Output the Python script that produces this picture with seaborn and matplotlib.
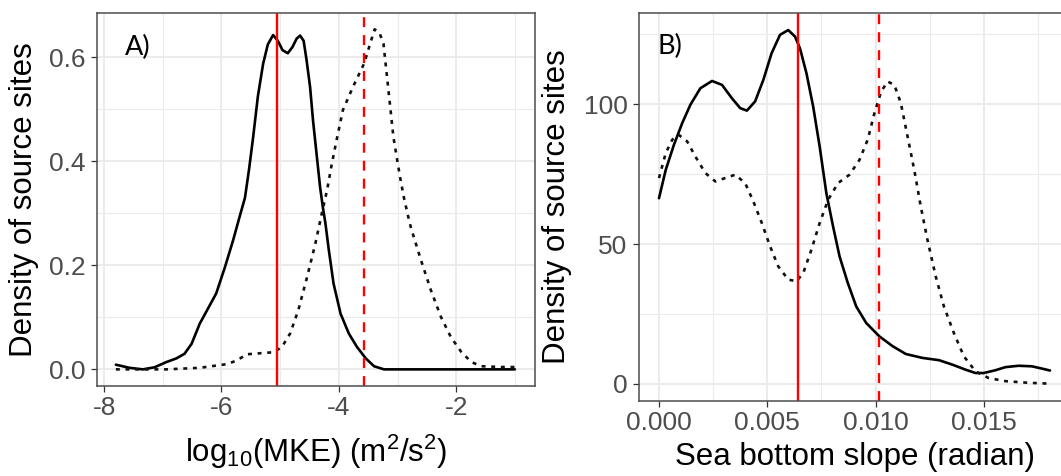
# density of source sites - MKE a sklon dna, dve panely vedla seba
import matplotlib
matplotlib.use("Agg")
import matplotlib.pyplot as plt
import seaborn as sns
import pandas as pd
from matplotlib.ticker import MultipleLocator, FormatStrFormatter

# A) log10(MKE)
mke_solid_x = [-7.80, -7.57, -7.34, -7.14, -6.94, -6.77, -6.63, -6.51, -6.37, -6.23, -6.09, -5.94,
               -5.80, -5.69, -5.60, -5.53, -5.46, -5.38, -5.29, -5.21, -5.12, -5.04, -4.96, -4.87,
               -4.79, -4.72, -4.66, -4.60, -4.55, -4.49, -4.44, -4.38, -4.32, -4.27, -4.23, -4.17,
               -4.09, -3.97, -3.83, -3.69, -3.54, -3.40, -3.23, -2.50, -1.00]
mke_solid_y = [0.009, 0.003, 0.000, 0.004, 0.014, 0.021, 0.030, 0.049, 0.088, 0.117, 0.146, 0.197,
               0.249, 0.294, 0.330, 0.385, 0.447, 0.525, 0.588, 0.625, 0.643, 0.632, 0.614, 0.608,
               0.620, 0.636, 0.642, 0.632, 0.595, 0.543, 0.479, 0.415, 0.351, 0.310, 0.282, 0.229,
               0.165, 0.107, 0.069, 0.043, 0.021, 0.006, 0.000, 0.000, 0.000]
mke_dot_x = [-7.80, -6.94, -6.37, -5.91, -5.74, -5.57, -5.34, -5.11, -4.97, -4.83, -4.69, -4.54,
             -4.40, -4.29, -4.20, -4.12, -4.04, -3.93, -3.76, -3.57, -3.47, -3.39, -3.31, -3.24,
             -3.16, -3.07, -2.96, -2.89, -2.82, -2.77, -2.60, -2.43, -2.26, -2.09, -1.91, -1.74,
             -1.57, -1.23, -1.00]
mke_dot_y = [0.000, 0.000, 0.003, 0.010, 0.017, 0.029, 0.031, 0.033, 0.043, 0.069, 0.114, 0.178,
             0.242, 0.300, 0.345, 0.395, 0.440, 0.499, 0.543, 0.588, 0.625, 0.654, 0.648, 0.627,
             0.543, 0.447, 0.372, 0.330, 0.295, 0.272, 0.210, 0.152, 0.101, 0.062, 0.033, 0.014,
             0.006, 0.0045, 0.0045]
mke_vlines = [-5.06, -3.57]

# B) sea bottom slope
slope_solid_x = [0.0, 0.31, 0.69, 1.07, 1.45, 1.91, 2.45, 2.91, 3.37, 3.75, 4.06, 4.44, 4.82, 5.20,
                 5.59, 5.97, 6.28, 6.51, 6.81, 7.12, 7.42, 7.73, 8.04, 8.34, 8.72, 9.11, 9.57, 10.18,
                 10.79, 11.40, 12.17, 12.93, 13.55, 14.16, 14.62, 15.0, 15.54, 16.0, 16.61, 17.22,
                 17.68, 18.06]
slope_solid_y = [66.4, 76.5, 85.5, 93.2, 99.8, 105.7, 108.3, 106.9, 102.1, 98.6, 97.7, 101.0, 108.7,
                 118.2, 124.8, 126.5, 124.2, 120.0, 111.1, 99.2, 84.9, 68.2, 56.3, 45.6, 36.1, 27.7,
                 21.8, 17.0, 13.5, 10.7, 9.3, 8.5, 6.9, 5.1, 3.9, 3.9, 4.9, 6.0, 6.5, 6.3, 5.5, 4.8]
slope_dot_x = [0.0, 0.31, 0.61, 0.92, 1.30, 1.68, 2.14, 2.60, 3.06, 3.52, 3.98, 4.36, 4.75, 5.13,
               5.51, 5.97, 6.35, 6.66, 7.04, 7.42, 7.81, 8.27, 8.80, 9.26, 9.64, 9.95, 10.26, 10.56,
               10.87, 11.17, 11.48, 11.79, 12.09, 12.40, 12.78, 13.16, 13.62, 14.08, 14.62, 15.23,
               16.0, 17.07, 18.06]
slope_dot_y = [73.6, 82.5, 87.3, 89.0, 86.7, 81.3, 75.4, 72.4, 73.6, 74.8, 71.8, 65.2, 57.5, 49.2,
               42.0, 37.3, 36.7, 39.6, 48.0, 57.5, 65.8, 71.8, 74.8, 80.1, 87.3, 96.8, 104.5, 108.1,
               106.9, 100.4, 88.5, 76.5, 63.5, 51.5, 38.5, 27.7, 18.2, 9.9, 4.5, 2.1, 1.0, 0.4, 0.1]
slope_vlines = [6.43, 10.18]  # v tisicinach radianu

# x hodnoty sklonu su v tisicinach
slope_solid_x = [v / 1000 for v in slope_solid_x]
slope_dot_x = [v / 1000 for v in slope_dot_x]
slope_vlines = [v / 1000 for v in slope_vlines]

sns.set_theme(style="white")
plt.rcParams["font.family"] = ["Liberation Sans", "DejaVu Sans"]
plt.rcParams["mathtext.fontset"] = "custom"
plt.rcParams["mathtext.rm"] = "Liberation Sans"
plt.rcParams["mathtext.it"] = "Liberation Sans"
plt.rcParams["axes.unicode_minus"] = False

W, H = 1061, 476
fig = plt.figure(figsize=(W / 100, H / 100), dpi=100)
ax_a = fig.add_axes([97.1 / W, (H - 386) / H, (534.8 - 97.1) / W, (386 - 12.7) / H])
ax_b = fig.add_axes([639.3 / W, (H - 401) / H, (1071 - 639.3) / W, (401 - 13) / H])

DOT = (0, (1.5, 2.15))
DASH = (0, (4.2, 3.4))


def style_axes(ax):
    ax.set_axisbelow(True)
    ax.grid(which="major", color="#EBEBEB", lw=1.4)
    ax.grid(which="minor", color="#EBEBEB", lw=0.8)
    for s in ax.spines.values():
        s.set_color("#4d4d4d")
        s.set_linewidth(1.1)
    ax.tick_params(axis="both", which="major", direction="out", length=4.5, width=0.9,
                   color="#333333", labelcolor="#4D4D4D", labelsize=19,
                   left=True, bottom=True)
    ax.tick_params(axis="x", pad=2.5)
    ax.tick_params(axis="y", pad=4)
    ax.tick_params(which="minor", length=0)


def draw_panel(ax, sx, sy, dx, dy, vlines):
    sns.lineplot(x=sx, y=sy, ax=ax, color="black", lw=1.9, sort=False, estimator=None)
    sns.lineplot(x=dx, y=dy, ax=ax, color="#111111", lw=1.9, sort=False, estimator=None,
                 linestyle=DOT)
    ax.axvline(vlines[0], color="#FF0000", lw=1.7)
    ax.axvline(vlines[1], color="#FF0000", lw=1.7, linestyle=DASH)


# panel A
draw_panel(ax_a, mke_solid_x, mke_solid_y, mke_dot_x, mke_dot_y, mke_vlines)
style_axes(ax_a)
ax_a.set_xlim(-8.12, -0.66)
ax_a.set_ylim(-0.032, 0.686)
ax_a.xaxis.set_major_locator(MultipleLocator(2))
ax_a.xaxis.set_minor_locator(MultipleLocator(1))
ax_a.yaxis.set_major_locator(MultipleLocator(0.2))
ax_a.yaxis.set_minor_locator(MultipleLocator(0.1))
ax_a.yaxis.set_major_formatter(FormatStrFormatter("%.1f"))
ax_a.xaxis.set_major_formatter(FormatStrFormatter("%d"))
ax_a.set_xlabel(r"log$_{10}$(MKE) (m$^2$/s$^2$)", fontsize=22.5, color="black")
ax_a.set_ylabel("Density of source sites", fontsize=22.5, color="black")
ax_a.xaxis.label.set_va("center")
ax_a.yaxis.label.set_va("center")
ax_a.xaxis.set_label_coords(0.5, -0.177)
ax_a.yaxis.set_label_coords((24 - 97.1) / 437.7, 0.5)
ax_a.text(125, H - 55, "A)", transform=None, fontsize=19.5, family=["Lato", "DejaVu Sans"],
          color="black", ha="left", va="baseline")

# panel B
draw_panel(ax_b, slope_solid_x, slope_solid_y, slope_dot_x, slope_dot_y, slope_vlines)
style_axes(ax_b)
ax_b.set_xlim(-0.00091, 0.01903)
ax_b.set_ylim(-6.1, 132.6)
ax_b.xaxis.set_major_locator(MultipleLocator(0.005))
ax_b.xaxis.set_minor_locator(MultipleLocator(0.0025))
ax_b.yaxis.set_major_locator(MultipleLocator(50))
ax_b.yaxis.set_minor_locator(MultipleLocator(25))
ax_b.xaxis.set_major_formatter(FormatStrFormatter("%.3f"))
ax_b.yaxis.set_major_formatter(FormatStrFormatter("%d"))
ax_b.set_xlabel("Sea bottom slope (radian)", fontsize=22.5, color="black")
ax_b.set_ylabel("Density of source sites", fontsize=22.5, color="black")
ax_b.xaxis.label.set_va("center")
ax_b.yaxis.label.set_va("center")
ax_b.xaxis.set_label_coords(0.5, -(457 - 401) / 388)
ax_b.yaxis.set_label_coords((557.5 - 639.3) / 431.7, 0.5)
ax_b.text(658, H - 54.5, "B)", transform=None, fontsize=19.5, family=["Lato", "DejaVu Sans"],
          color="black", ha="left", va="baseline")

fig.savefig("out.png", dpi=100)
